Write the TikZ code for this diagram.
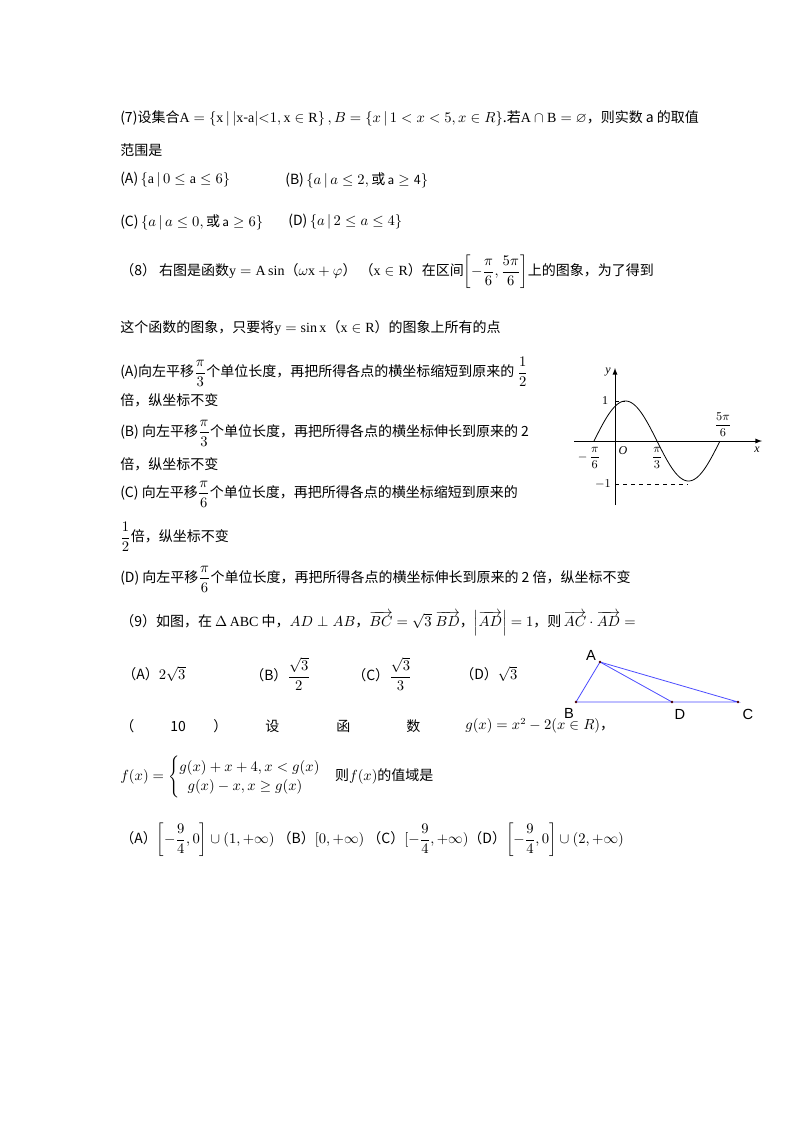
\documentclass[tikz,border=0pt]{standalone}
\usepackage{amsmath,amssymb}
\usepackage{fontspec}
\setmainfont{Liberation Serif}
\newfontfamily\cjk{Noto Sans CJK SC}
\newfontfamily\arialf{Liberation Sans}
\begin{document}
\begin{tikzpicture}[x=0.75pt,y=-0.75pt,
  txt/.style={anchor=west,inner sep=0pt,font=\cjk\fontsize{10.5}{12}\selectfont},
  tri/.style={draw=blue!70,line width=0.6pt},
  lbl/.style={font=\arialf\fontsize{11}{12}\selectfont,inner sep=0pt}]
\useasboundingbox (0,0) rectangle (800,1132);
\fill[white] (0,0) rectangle (800,1132);
% (7)
\node[txt] (q7) at (120,118) {(7)设集合$\mathrm{A}=\left\{\mathrm{x}\,|\,|\mathrm{x\text{-}a}|{<}1,\mathrm{x}\in\mathrm{R}\right\},B=\left\{x\,|\,1<x<5,x\in R\right\}$.若$\mathrm{A}\cap\mathrm{B}=\varnothing$，则实数 a 的取值};
\node[txt] (q7b) at (120,150) {范围是};
\node[txt] (q7A) at (120,180) {(A)$\,\left\{\mathrm{a}\,|\,0\le \mathrm{a}\le 6\right\}$};
\node[txt] (q7B) at (285,180) {(B)$\,\left\{a\,|\,a\le 2,\text{或}\,\mathsf{a}\ge \mathsf{4}\right\}$};
\node[txt] (q7C) at (120,222) {(C)$\,\left\{a\,|\,a\le 0,\text{或}\,\mathsf{a}\ge 6\right\}$};
\node[txt] (q7D) at (288,222) {(D)$\,\left\{a\,|\,2\le a\le 4\right\}$};
% (8)
\node[txt] (q8) at (120,272) {（8） 右图是函数$\mathrm{y}=\mathrm{A}\sin$（$\omega\mathrm{x}+\varphi$） （$\mathrm{x}\in\mathrm{R}$）在区间$\left[-\dfrac{\pi}{6},\dfrac{5\pi}{6}\right]$上的图象，为了得到};
\node[txt] (q8b) at (120,328) {这个函数的图象，只要将$\mathrm{y}=\sin\mathrm{x}$（$\mathrm{x}\in\mathrm{R}$）的图象上所有的点};
\node[txt] (q8A) at (120,372) {(A)向左平移$\dfrac{\pi}{3}$个单位长度，再把所得各点的横坐标缩短到原来的 $\dfrac{1}{2}$};
\node[txt] (q8A2) at (120,400) {倍，纵坐标不变};
\node[txt] (q8B) at (120,433) {(B) 向左平移$\dfrac{\pi}{3}$个单位长度，再把所得各点的横坐标伸长到原来的 2};
\node[txt] (q8B2) at (120,464) {倍，纵坐标不变};
\node[txt] (q8C) at (120,494) {(C) 向左平移$\dfrac{\pi}{6}$个单位长度，再把所得各点的横坐标缩短到原来的};
\node[txt] (q8C2) at (120,537) {$\dfrac{1}{2}$倍，纵坐标不变};
\node[txt] (q8D) at (120,579) {(D) 向左平移$\dfrac{\pi}{6}$个单位长度，再把所得各点的横坐标伸长到原来的 2 倍，纵坐标不变};
% graph
\coordinate (xs) at (574,441); \coordinate (xe) at (762,441);
\coordinate (ys) at (615,505); \coordinate (ye) at (615,368);
\draw[line width=0.7pt,-latex] (xs) -- (xe);
\draw[line width=0.7pt,-latex] (ys) -- (ye);
\draw[line width=0.6pt,domain=-0.5236:2.618,samples=100,smooth] plot ({615+40.1*\x},{441-40*sin(deg(2*\x+1.0472))});
\draw[dashed,line width=0.5pt] (615,484) -- (688,484);
\draw[dashed,line width=0.5pt] (615,401) -- (625,401);
\node[font=\itshape\fontsize{9}{10}\selectfont,inner sep=0pt] (ylab) at (608,372) {y};
\node[font=\itshape\fontsize{9}{10}\selectfont,inner sep=0pt] (xlab) at (757,450) {x};
\node[font=\fontsize{9}{10}\selectfont,inner sep=0pt] (one) at (605,401) {1};
\node[font=\fontsize{9}{10}\selectfont,inner sep=0pt] (mone) at (603,484) {$-1$};
\node[font=\itshape\fontsize{9}{10}\selectfont,inner sep=0pt] (O) at (623,451) {O};
\node[font=\fontsize{9}{10}\selectfont,inner sep=0pt] (l1) at (589,458) {$-\,\dfrac{\pi}{6}$};
\node[font=\fontsize{9}{10}\selectfont,inner sep=0pt] (l2) at (657,458) {$\dfrac{\pi}{3}$};
\node[font=\fontsize{9}{10}\selectfont,inner sep=0pt] (l3) at (723,425) {$\dfrac{5\pi}{6}$};
% (9)
\node[txt] (q9) at (120,623) {（9）如图，在 $\Delta\,\mathrm{ABC}$ 中，$AD\perp AB$，$\overrightarrow{BC}=\sqrt{3}\;\overrightarrow{BD}$，$\left|\overrightarrow{AD}\right|=1$，则\,$\overrightarrow{AC}\cdot\overrightarrow{AD}=$};
\node[txt] (q9A) at (122,674) {（A）$2\sqrt{3}$};
\node[txt] (q9B) at (250,674) {（B）$\dfrac{\sqrt{3}}{2}$};
\node[txt] (q9C) at (352,674) {（C）$\dfrac{\sqrt{3}}{3}$};
\node[txt] (q9D) at (460,674) {（D）$\sqrt{3}$};
% triangle
\coordinate (A) at (600,662); \coordinate (B) at (576,702);
\coordinate (D) at (672,702); \coordinate (C) at (738,702);
\draw[tri] (A) -- (B) -- (C) -- cycle;
\draw[tri] (A) -- (D);
\foreach \p in {A,B,C,D} \fill[black!70!red] (\p) circle (1pt);
\node[lbl] (lA) at (591,655) {A};
\node[lbl] (lB) at (569,713) {B};
\node[lbl] (lD) at (680,714) {D};
\node[lbl] (lC) at (748,714) {C};
% (10)
\node[txt] (q10a) at (120,726) {（};
\node[txt] (q10b) at (170,726) {10};
\node[txt] (q10c) at (213,726) {）};
\node[txt] (q10d) at (265,726) {设};
\node[txt] (q10e) at (336,726) {函};
\node[txt] (q10f) at (406,726) {数};
\node[txt] (q10g) at (465,726) {$g(x)=x^{2}-2(x\in R)$，};
\node[txt] (q10h) at (120,777) {$f(x)=\begin{cases}g(x)+x+4,x<g(x)\\ \;\;g(x)-x,x\ge g(x)\end{cases}$则$f(x)$的值域是};
\node[txt] (q10o) at (120,840) {（A）$\left[-\dfrac{9}{4},0\right]\cup(1,+\infty)$ （B）$[0,+\infty)$ （C）$[-\dfrac{9}{4},+\infty)$（D）$\left[-\dfrac{9}{4},0\right]\cup(2,+\infty)$};
\end{tikzpicture}
\end{document}
